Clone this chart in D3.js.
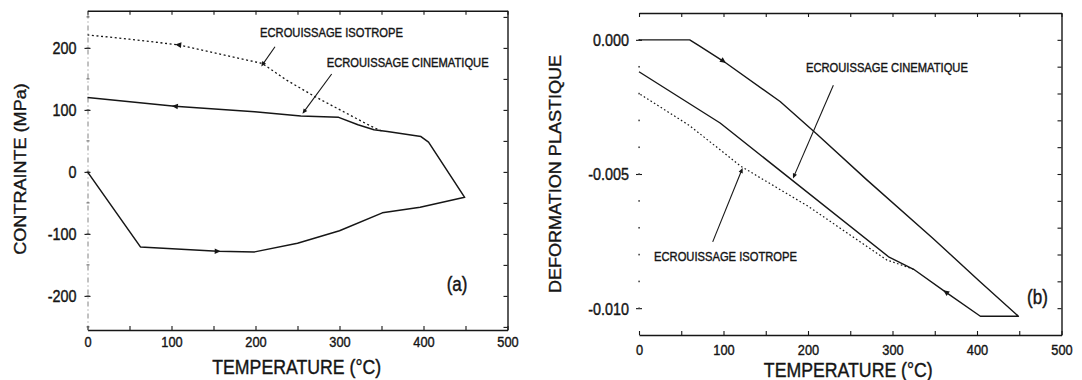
<!DOCTYPE html>
<html><head><meta charset="utf-8">
<script src="https://cdn.jsdelivr.net/npm/d3@7"></script>
<style>
html,body{margin:0;padding:0;background:#fff;}
svg{display:block;}
text{font-family:"Liberation Sans", Arial, Helvetica, sans-serif; fill:#151515; stroke:#151515; stroke-width:0.35px;}
</style></head><body>
<svg id="chart" width="1082" height="380"></svg>
<script>
// ---------------- data ----------------
const tempTicks = [0, 100, 200, 300, 400, 500];
const stressTicks = [-200, -100, 0, 100, 200];
const strainTicks = [0, -0.005, -0.010];
const strainTickLabels = ["0.000", "-0.005", "-0.010"];

// panel (a): stress (MPa) vs temperature, kinematic hardening loop
const kinTempA   = [0, 63, 155, 199, 250, 300, 351, 396, 449, 406, 397, 357, 341, 322, 299, 254, 199, 104, 0];
const kinStressA = [0, -121, -128, -129, -115, -95, -66, -57, -41, 48, 57, 65, 68, 76, 88, 90, 97, 106, 120];
// panel (a): isotropic hardening branch
const isoTempA   = [350, 337, 270, 237, 208, 108, 50, 0];
const isoStressA = [66, 74, 122, 148, 175, 205, 214, 221];

// panel (b): plastic strain vs temperature, kinematic
const kinTempB   = [0, 60, 70, 100, 167, 210, 269, 348, 403, 449, 404, 363, 325, 296, 96, 0];
const kinStrainB = [0, 0, -0.0002, -0.0008, -0.0023, -0.0035, -0.0052, -0.0074, -0.0090, -0.0103, -0.0103, -0.0094, -0.00855, -0.0081, -0.0031, -0.00119];
// panel (b): isotropic branch
const isoTempB   = [325, 293, 200, 120, 60, 0];
const isoStrainB = [-0.00855, -0.0082, -0.0062, -0.0047, -0.0032, -0.0020];

// direction arrows on curves: vertex index -> next vertex
const arrowIdxKinA = [2, 17];
const arrowIdxIsoA = [5];
const arrowIdxKinB = [3, 11];

// annotations (data units)
const annLabels = ["ECROUISSAGE ISOTROPE", "ECROUISSAGE CINEMATIQUE"];
const annLabelPosA = [[205.4, 216.8], [284.8, 168.4]];
const annArrowA = [[[223.2, 201.9], [208.6, 173.5]], [[290.7, 157.9], [257.7, 97.1]]];
const annLabelPosB = [[17.8, -0.00823], [197.6, -0.00121]];
const annArrowB = [[[87.2, -0.00753], [121.5, -0.00486]], [[230, -0.00169], [183.4, -0.00508]]];
const panelTags = ["(a)", "(b)"];
const panelTagPos = [[440, -192], [471.6, -0.00985]];

// ---------------- layout ----------------
const SY = 1.15;          // vertical stretch of scanned text
const INK = "#161616";
const svg = d3.select("#chart");

const xA = d3.scaleLinear().domain([0, 500]).range([87.5, 507.5]);
const yA = d3.scaleLinear().domain([-255, 260]).range([330, 10.7]);
const xB = d3.scaleLinear().domain([0, 500]).range([639, 1061.5]);
const yB = d3.scaleLinear().domain([-0.011, 0.001]).range([335, 13]);

const zip = (a, b) => a.map((v, i) => [v, b[i]]);

function htext(g, x, y, str, size, anchor) {
  return g.append("text")
    .attr("transform", `translate(${x},${y}) scale(1,${SY})`)
    .attr("text-anchor", anchor)
    .style("font-size", size + "px")
    .text(str);
}
function vtext(g, x, y, str, size) {
  return g.append("text")
    .attr("transform", `translate(${x},${y}) rotate(-90) scale(${SY},1)`)
    .attr("text-anchor", "middle")
    .style("font-size", size + "px")
    .text(str);
}
function arrowHead(g, x, y, ang, len, half) {
  g.append("path")
    .attr("d", `M${len},0 L0,${-half} L0,${half} Z`)
    .attr("transform", `translate(${x},${y}) rotate(${ang * 180 / Math.PI}) translate(${-len / 2},0)`)
    .attr("fill", INK);
}
function styleAxis(g) {
  g.attr("font-size", null).attr("font-family", null);
  g.selectAll(".tick line").attr("stroke", INK).attr("stroke-width", 1.1);
  g.select(".domain").attr("stroke", INK).attr("stroke-width", 1.4);
}

function drawPanel(cfg) {
  const { x, y, yMinor, yLabelVals, yLabelFmt, xLabelOff, yLabelPad, leftFrame } = cfg;
  const g = svg.append("g");
  const [x0, x1] = x.range();
  const [y0, y1] = y.range();
  const xMinor = d3.range(0, 501, 50);

  // bottom axis with labels
  const bx = g.append("g").attr("transform", `translate(0,${y0})`)
    .call(d3.axisBottom(x).tickValues(xMinor).tickSize(-4).tickSizeOuter(0)
      .tickFormat(d => tempTicks.includes(d) ? d : ""));
  styleAxis(bx);
  bx.selectAll("text").attr("y", null).attr("dy", null)
    .attr("transform", `translate(0,${xLabelOff}) scale(1,${SY})`)
    .style("font-size", "12.8px").attr("fill", INK);

  // top axis
  const tx = g.append("g").attr("transform", `translate(0,${y1})`)
    .call(d3.axisTop(x).tickValues(xMinor).tickSize(-4).tickSizeOuter(0).tickFormat(""));
  styleAxis(tx);

  // right axis
  const ry = g.append("g").attr("transform", `translate(${x1},0)`)
    .call(d3.axisRight(y).tickValues(yMinor).tickSize(-4).tickSizeOuter(0).tickFormat(""));
  styleAxis(ry);

  // left axis with labels
  const ly = g.append("g").attr("transform", `translate(${x0},0)`)
    .call(d3.axisLeft(y).tickValues(yLabelVals).tickSize(2).tickSizeOuter(0)
      .tickFormat(yLabelFmt));
  styleAxis(ly);
  ly.selectAll(".tick line").attr("x2", 3).attr("x1", -3);
  ly.selectAll("text").attr("x", null).attr("dy", null)
    .attr("transform", `translate(${-yLabelPad},5.9) scale(1,${SY})`)
    .style("font-size", "14.4px").attr("fill", INK);
  if (leftFrame === "dashed") {
    ly.select(".domain").attr("stroke", "#777").attr("stroke-width", 0.9).attr("stroke-dasharray", "5,3,1,3");
    g.selectAll(".lminor").data(yMinor).join("line")
      .attr("x1", x0 - 1).attr("x2", x0 + 2).attr("y1", d => y(d)).attr("y2", d => y(d))
      .attr("stroke", "#555").attr("stroke-width", 1);
  } else {
    ly.select(".domain").attr("stroke", "none");
    g.selectAll(".ldot").data(yMinor).join("rect")
      .attr("x", x0 - 0.7).attr("y", d => y(d) - 0.7).attr("width", 1.6).attr("height", 1.6)
      .attr("fill", "#444");
  }
  return g;
}

const gA = drawPanel({
  x: xA, y: yA, yMinor: d3.range(-250, 251, 50),
  yLabelVals: stressTicks, yLabelFmt: d => d,
  xLabelOff: 17, yLabelPad: 11, leftFrame: "dashed"
});
const gB = drawPanel({
  x: xB, y: yB, yMinor: d3.range(-10, 1, 1).map(v => v / 1000),
  yLabelVals: strainTicks, yLabelFmt: (d, i) => strainTickLabels[i],
  xLabelOff: 19.5, yLabelPad: 10, leftFrame: "dots"
});

// axis titles
htext(gA, 296.7, 374, "TEMPERATURE (°C)", 17.7, "middle");
htext(gB, 848.3, 376.5, "TEMPERATURE (°C)", 17.7, "middle");
vtext(gA, 25.5, 169, "CONTRAINTE (MPa)", 15.7);
vtext(gB, 560.5, 174, "DEFORMATION PLASTIQUE", 15.7);

// curves
function curve(g, x, y, pts, width, dash) {
  const p = g.append("path")
    .datum(pts)
    .attr("d", d3.line().x(d => x(d[0])).y(d => y(d[1])))
    .attr("fill", "none").attr("stroke", INK).attr("stroke-width", width)
    .attr("stroke-linejoin", "round");
  if (dash) p.attr("stroke-dasharray", dash);
  return p;
}
function curveArrows(g, x, y, pts, idxs) {
  idxs.forEach(i => {
    const a = pts[i], b = pts[i + 1];
    const px = x(a[0]), py = y(a[1]);
    const ang = Math.atan2(y(b[1]) - py, x(b[0]) - px);
    arrowHead(g, px, py, ang, 6, 2.8);
  });
}

const kinA = zip(kinTempA, kinStressA);
const isoA = zip(isoTempA, isoStressA);
const kinB = zip(kinTempB, kinStrainB);
const isoB = zip(isoTempB, isoStrainB);

curve(gA, xA, yA, isoA, 1.3, "2,2.6");
curve(gA, xA, yA, kinA, 1.5);
curveArrows(gA, xA, yA, kinA, arrowIdxKinA);
curveArrows(gA, xA, yA, isoA, arrowIdxIsoA);

curve(gB, xB, yB, isoB, 1.2, "1.6,2.4");
curve(gB, xB, yB, kinB, 1.4);
curveArrows(gB, xB, yB, kinB, arrowIdxKinB);

// annotations
function annotate(g, x, y, labelPos, arrows) {
  annLabels.forEach((lab, i) => {
    htext(g, x(labelPos[i][0]), y(labelPos[i][1]), lab, 11.2, "start");
    const [f, t] = arrows[i];
    const fx = x(f[0]), fy = y(f[1]), tx = x(t[0]), ty = y(t[1]);
    g.append("line").attr("x1", fx).attr("y1", fy).attr("x2", tx).attr("y2", ty)
      .attr("stroke", INK).attr("stroke-width", 1.1);
    arrowHead(g, tx, ty, Math.atan2(ty - fy, tx - fx), 5, 2.2);
  });
}
annotate(gA, xA, yA, annLabelPosA, annArrowA);
annotate(gB, xB, yB, annLabelPosB, annArrowB);

htext(gA, xA(panelTagPos[0][0]), yA(panelTagPos[0][1]), panelTags[0], 17, "middle");
htext(gB, xB(panelTagPos[1][0]), yB(panelTagPos[1][1]), panelTags[1], 17, "middle");
</script>
</body></html>
